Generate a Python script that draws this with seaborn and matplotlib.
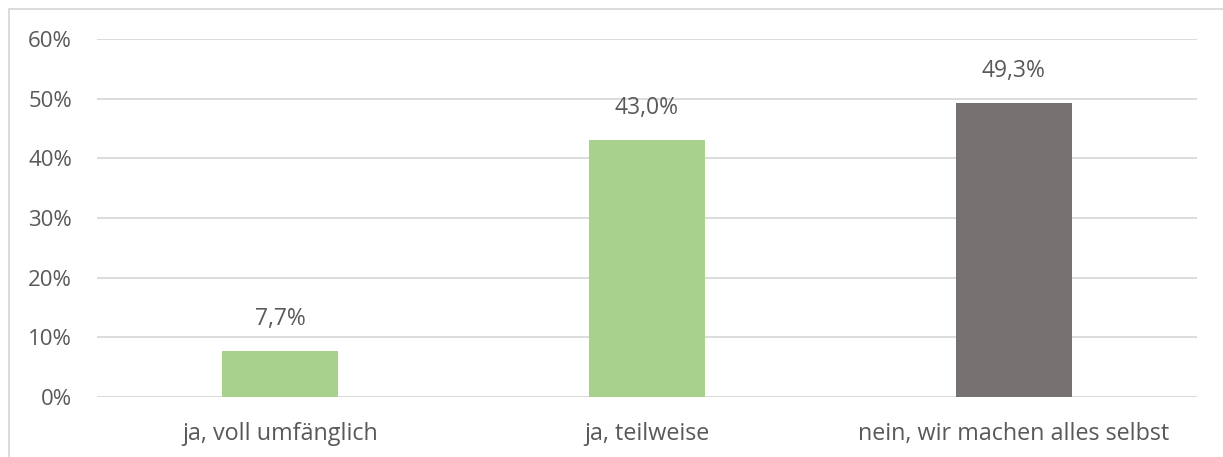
import matplotlib
matplotlib.use("Agg")
import matplotlib.pyplot as plt
import seaborn as sns
import pandas as pd
from matplotlib.lines import Line2D

categories = ["ja, voll umfänglich", "ja, teilweise", "nein, wir machen alles selbst"]
values = [7.7, 43.0, 49.3]
labels = ["7,7%", "43,0%", "49,3%"]
colors = ["#A9D18E", "#A9D18E", "#767171"]
yticks = [0, 10, 20, 30, 40, 50, 60]

sns.set_theme(style="white")
plt.rcParams["font.family"] = ["Open Sans", "DejaVu Sans"]
text_color = "#595959"

fig = plt.figure(figsize=(12.23, 4.57), dpi=100)
ax = fig.add_axes([0.0793, 0.1313, 0.8994, 0.7834])

df = pd.DataFrame({"cat": categories, "val": values})
sns.barplot(data=df, x="cat", y="val", hue="cat", palette=colors, width=0.316,
            legend=False, ax=ax, saturation=1, linewidth=0)

ax.set_ylim(0, 60)
ax.set_xlim(-0.5, 2.5)
ax.set_yticks(yticks)
ax.set_yticklabels([f"{t}%" for t in yticks])
ax.yaxis.grid(True, color="#D9D9D9", linewidth=1.3)
ax.set_axisbelow(True)
for s in ax.spines.values():
    s.set_visible(False)
ax.axhline(0, color="#D9D9D9", linewidth=1.3, zorder=0.5)
ax.set_xlabel("")
ax.set_ylabel("")
ax.tick_params(axis="y", labelsize=16, colors=text_color, length=0, pad=18)
ax.tick_params(axis="x", labelsize=16.8, colors=text_color, length=0, pad=18)

for i, (v, l) in enumerate(zip(values, labels)):
    ax.text(i, v + 5.4, l, ha="center", va="center", fontsize=16.5, color=text_color)

fig.add_artist(Line2D([8.5 / 1223, 8.5 / 1223], [0, 1 - 9 / 457], transform=fig.transFigure,
                      color="#D9D9D9", linewidth=1.3))
fig.add_artist(Line2D([8.5 / 1223, 1], [1 - 9 / 457, 1 - 9 / 457], transform=fig.transFigure,
                      color="#D9D9D9", linewidth=1.3))

fig.savefig("out.png", dpi=100, facecolor="white")
